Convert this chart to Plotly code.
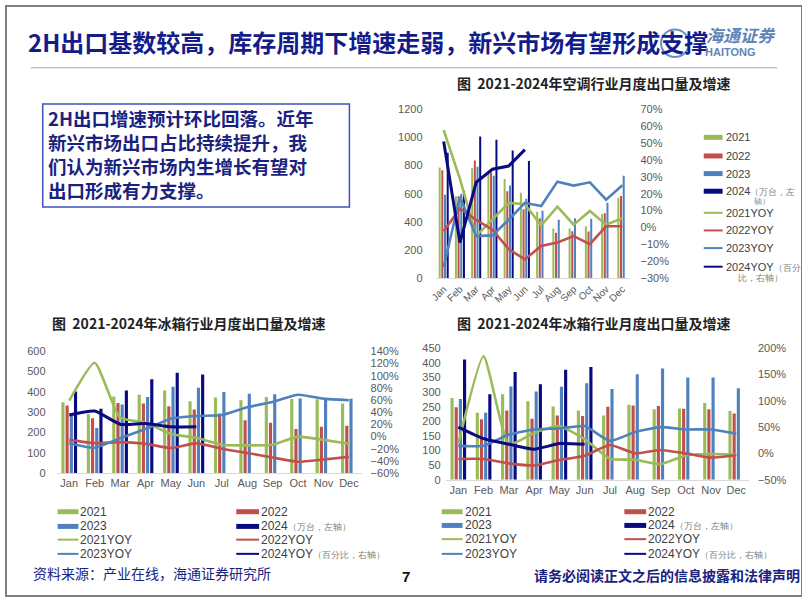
import plotly.graph_objects as go

W, H = 802, 602

months = ["Jan", "Feb", "Mar", "Apr", "May", "Jun", "Jul", "Aug", "Sep", "Oct", "Nov", "Dec"]

# ---- Chart 1: air conditioner exports (10k units) and YoY ----
ac_2021 = [785, 582, 780, 743, 704, 607, 473, 353, 353, 369, 457, 572]
ac_2022 = [766, 582, 835, 750, 618, 489, 427, 323, 335, 332, 461, 584]
ac_2023 = [593, 600, 790, 727, 658, 565, 480, 415, 427, 422, 535, 727]
ac_2024 = [890, 620, 1004, 981, 905, 831]
ac_yoy_2021 = [0.575, 0.287, -0.05, 0.046, 0.146, 0.138, 0.012, 0.123, 0.017, 0.098, 0.017, 0.056]
ac_yoy_2022 = [-0.021, 0.113, 0.046, -0.012, -0.127, -0.188, -0.108, -0.088, -0.05, -0.098, 0.008, 0.008]
ac_yoy_2023 = [-0.233, 0.18, -0.05, -0.046, 0.046, 0.146, 0.127, 0.271, 0.248, 0.267, 0.165, 0.25]
ac_yoy_2024 = [0.508, -0.088, 0.267, 0.344, 0.363, 0.46]

# ---- Chart 2: refrigerator exports (left chart) ----
rf_2021 = [349, 290, 378, 386, 407, 354, 373, 359, 375, 365, 364, 343]
rf_2022 = [333, 270, 346, 343, 330, 314, 294, 261, 248, 217, 228, 233]
rf_2023 = [281, 222, 338, 375, 426, 421, 399, 391, 389, 368, 365, 367]
rf_2024 = [402, 317, 407, 462, 494, 486]
rf_yoy_2021 = [0.59, 1.212, 0.312, 0.231, 0.043, -0.02, -0.133, -0.144, -0.133, 0.0, -0.053, -0.117]
rf_yoy_2022 = [-0.053, -0.107, -0.09, -0.117, -0.187, -0.11, -0.198, -0.268, -0.343, -0.412, -0.375, -0.332]
rf_yoy_2023 = [-0.107, -0.182, -0.026, 0.124, 0.295, 0.338, 0.354, 0.483, 0.569, 0.687, 0.623, 0.596]
rf_yoy_2024 = [0.354, 0.419, 0.204, 0.215, 0.161, 0.161]

# ---- Chart 3: refrigerator exports (right chart) ----
fz_2021 = [280, 229, 293, 269, 251, 237, 220, 257, 241, 244, 263, 235]
fz_2022 = [248, 207, 237, 209, 220, 218, 250, 254, 252, 243, 241, 227]
fz_2023 = [276, 229, 319, 302, 318, 330, 311, 361, 381, 350, 350, 313]
fz_2024 = [412, 293, 369, 327, 377, 386]
fz_yoy_2021 = [0.18, 1.85, 0.175, 0.39, 0.52, 0.27, -0.104, -0.12, -0.205, -0.04, -0.012, -0.024]
fz_yoy_2022 = [-0.106, -0.106, -0.19, -0.23, -0.125, -0.044, 0.16, 0.0, 0.065, 0.0, -0.08, -0.035]
fz_yoy_2023 = [0.144, 0.144, 0.36, 0.456, 0.475, 0.52, 0.238, 0.406, 0.50, 0.456, 0.456, 0.375]
fz_yoy_2024 = [0.50, 0.28, 0.175, 0.08, 0.1875, 0.175]

GREEN, RED, BLUE, NAVY = "#9BBB59", "#C0504D", "#4F81BD", "#0A0A80"
TXT = "#595959"
CJK = "Noto Sans CJK SC"
LAT = "Liberation Sans, Arial, sans-serif"


def px(x):
    return x / W


def py(y):
    return 1 - y / H


fig = go.Figure()


def add_chart(xa, ya, ya2, bars, lines, spline):
    names = ["2021", "2022", "2023", "2024"]
    cols = [GREEN, RED, BLUE, NAVY]
    for i, (vals, c) in enumerate(zip(bars, cols)):
        fig.add_trace(go.Bar(x=months[:len(vals)], y=vals, name=names[i], marker_color=c,
                             marker_line_width=0, offsetgroup=str(i), xaxis=xa, yaxis=ya,
                             showlegend=False, hoverinfo="skip"))
    for i, (vals, c) in enumerate(zip(lines, cols)):
        fig.add_trace(go.Scatter(x=months[:len(vals)], y=vals, mode="lines", name=names[i] + "YOY",
                                 line=dict(color=c, width=3 if i == 3 else 2.6,
                                           shape="spline" if spline else "linear", smoothing=0.5),
                                 xaxis=xa, yaxis=ya2, showlegend=False, hoverinfo="skip"))


add_chart("x", "y", "y2", [ac_2021, ac_2022, ac_2023, ac_2024],
          [ac_yoy_2021, ac_yoy_2022, ac_yoy_2023, ac_yoy_2024], False)
add_chart("x2", "y3", "y4", [rf_2021, rf_2022, rf_2023, rf_2024],
          [rf_yoy_2021, rf_yoy_2022, rf_yoy_2023, rf_yoy_2024], True)
add_chart("x3", "y5", "y6", [fz_2021, fz_2022, fz_2023, fz_2024],
          [fz_yoy_2021, fz_yoy_2022, fz_yoy_2023, fz_yoy_2024], True)

tickfont = dict(family=LAT, size=11, color=TXT)


def xax(d0, d1, anchor, angle=0, size=11):
    return dict(domain=[px(d0), px(d1)], anchor=anchor, type="category", categoryorder="array",
                categoryarray=months, range=[-0.5, 11.5], showgrid=False, showline=True,
                linecolor="#D9D9D9", linewidth=1, ticks="", tickangle=angle,
                tickfont=dict(family=LAT, size=size, color=TXT), zeroline=False, fixedrange=True)


def yax(y0, y1, rng, dtick, anchor, side="left", fmt=None, standoff=8, overlay=None):
    d = dict(domain=[py(y0), py(y1)], range=rng, dtick=dtick, tick0=rng[0], anchor=anchor, side=side,
             showgrid=False, showline=False, zeroline=False, ticks="", tickfont=tickfont,
             ticklabelstandoff=standoff, fixedrange=True)
    if fmt:
        d["tickformat"] = fmt
    if overlay:
        d["overlaying"] = overlay
    return d


fig.update_layout(
    width=W, height=H, margin=dict(l=0, r=0, t=0, b=0),
    paper_bgcolor="white", plot_bgcolor="rgba(0,0,0,0)",
    barmode="group", bargap=0.34, bargroupgap=0.25, showlegend=False,
    xaxis=xax(432.8, 629.2, "y", angle=-45, size=10),
    yaxis=yax(278, 105, [0, 1200], 200, "x", standoff=12),
    yaxis2=yax(278, 105, [-0.3, 0.7], 0.1, "x", side="right", fmt=".0%", standoff=9, overlay="y"),
    xaxis2=xax(50.9, 358.3, "y3"),
    yaxis3=yax(476.7, 352.3, [0, 600], 100, "x2", standoff=10),
    yaxis4=yax(476.7, 352.3, [-0.6, 1.4], 0.2, "x2", side="right", fmt=".0%", standoff=8, overlay="y3"),
    xaxis3=xax(443, 748.5, "y5"),
    yaxis5=yax(483.3, 349.3, [0, 450], 50, "x3", standoff=4),
    yaxis6=yax(483.3, 349.3, [-0.5, 2.0], 0.5, "x3", side="right", fmt=".0%", standoff=8, overlay="y5"),
)

shapes = []
ann = []

# slide frame
shapes.append(dict(type="rect", xref="paper", yref="paper", x0=0, x1=1, y0=0, y1=1,
                   line=dict(color="#7F7F7F", width=2), layer="below"))
# title rule
shapes.append(dict(type="line", xref="paper", yref="paper", x0=px(25), x1=px(777), y0=py(63), y1=py(63),
                   line=dict(color="#8EA6CC", width=1)))
# text box
shapes.append(dict(type="rect", xref="paper", yref="paper", x0=px(37), x1=px(346), y0=py(100), y1=py(205),
                   line=dict(color="#3F51B5", width=1.5)))
# logo circle
shapes.append(dict(type="circle", xref="paper", yref="paper", x0=px(660), x1=px(688), y0=py(24), y1=py(52),
                   line=dict(color="#6A8FC0", width=2)))


def text(x, y, s, size, color, bold=False, family=CJK, xanchor="left"):
    ann.append(dict(xref="paper", yref="paper", x=px(x), y=py(y), text=("<b>%s</b>" % s) if bold else s,
                    showarrow=False, xanchor=xanchor, yanchor="middle",
                    font=dict(family=family, size=size, color=color), align="left"))


text(20, 36, "2H出口基数较高，库存周期下增速走弱，新兴市场有望形成支撑", 24, "#141C8C", bold=True)
text(703, 29, "<i>海通证券</i>", 17, "#5F85B8", bold=True)
text(702, 47, "HAITONG", 11, "#5F85B8", bold=True, family=LAT)

text(452, 79, "图  2021-2024年空调行业月度出口量及增速", 14, "#222222", bold=True)
text(44, 323, "图  2021-2024年冰箱行业月度出口量及增速", 14, "#222222", bold=True)
text(452, 323, "图  2021-2024年冰箱行业月度出口量及增速", 14, "#222222", bold=True)

box_lines = ["2H出口增速预计环比回落。近年", "新兴市场出口占比持续提升，我",
             "们认为新兴市场内生增长有望对", "出口形成有力支撑。"]
for i, s in enumerate(box_lines):
    text(40, 114 + i * 24.7, s, 18.5, "#1A2280", bold=True)

SER = [("2021", GREEN, True), ("2022", RED, True), ("2023", BLUE, True), ("2024", NAVY, True),
       ("2021YOY", GREEN, False), ("2022YOY", RED, False), ("2023YOY", BLUE, False), ("2024YOY", NAVY, False)]
SUFFIX = {"2024": "<span style='font-size:9px;color:#7F7F7F'>（万台，左轴）</span>",
          "2024YOY": "<span style='font-size:9px;color:#7F7F7F'>（百分比，右轴）</span>"}


def swatch(x0, x1, y, color, bar):
    shapes.append(dict(type="line", xref="paper", yref="paper", x0=px(x0), x1=px(x1), y0=py(y), y1=py(y),
                       line=dict(color=color, width=5 if bar else 2)))


# chart 1 legend (single column, right side)
rows1 = [134, 153, 171, 189, 211, 229, 247, 266]
for (name, c, bar), y in zip(SER, rows1):
    swatch(703, 722, y, c, bar)
    if name == "2024":
        text(723, y, "2024<span style='font-size:9px;color:#7F7F7F'>（万台，左</span>", 11, "#404040", family=LAT)
        text(752, y + 10, "轴）", 8, "#7F7F7F", family=LAT)
        continue
    if name == "2024YOY":
        text(723, y, "2024YOY<span style='font-size:9px;color:#7F7F7F'>（百分</span>", 11, "#404040", family=LAT)
        text(736, y + 12, "比，右轴）", 9, "#7F7F7F", family=LAT)
        continue
    text(723, y, name, 11, "#404040", family=LAT)


def legend2col(xs1, xs2, rows):
    pairs = [(SER[0], SER[1]), (SER[2], SER[3]), (SER[4], SER[5]), (SER[6], SER[7])]
    for (left, right), y in zip(pairs, rows):
        for (name, c, bar), (sx0, sx1) in zip([left, right], [xs1, xs2]):
            swatch(sx0, sx1, y, c, bar)
            text(sx1, y, name + SUFFIX.get(name, ""), 12, "#404040", family=LAT)


legend2col((52, 73), (232, 255), [516, 531, 544.5, 559])
legend2col((439, 460), (623, 645), [516, 530, 544, 559])

# footer
text(25, 579, "资料来源：产业在线，海通证券研究所", 14, "#1A2280")
text(403, 582, "<b>7</b>", 15, "#111111", family=LAT, xanchor="center")
text(530, 581, "请务必阅读正文之后的信息披露和法律声明", 14, "#1A2280", bold=True)

fig.update_layout(shapes=shapes, annotations=ann)
fig.write_html("out.html", config={"displayModeBar": False},
               post_script="document.body.style.margin='0';document.body.style.overflow='hidden';")
